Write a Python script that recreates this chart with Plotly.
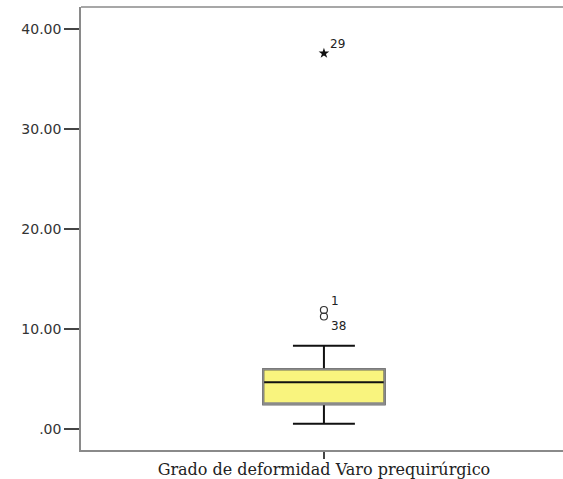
import plotly.graph_objects as go

category = ["Grado de deformidad Varo prequirúrgico"]
q1 = [2.44]
median = [4.64]
q3 = [5.94]
lower_fence = [0.5]
upper_fence = [8.3]

outlier_cases = ["1", "38"]
outlier_values = [11.87, 11.22]
extreme_cases = ["29"]
extreme_values = [37.54]

ytick_vals = [0, 10, 20, 30, 40]
ytick_text = [".00", "10.00", "20.00", "30.00", "40.00"]

fig = go.Figure()

fig.add_trace(go.Box(
    x=category, q1=q1, median=median, q3=q3,
    lowerfence=lower_fence, upperfence=upper_fence,
    fillcolor="#F9F47E", line=dict(color="#111111", width=2),
    width=0.252, whiskerwidth=0.51, boxpoints=False, showlegend=False,
    hoverinfo="skip",
))
fig.add_trace(go.Box(
    x=category, q1=q1, median=q1, q3=q3,
    lowerfence=q1, upperfence=q3,
    fillcolor="rgba(0,0,0,0)", line=dict(color="#8a8a8a", width=2),
    width=0.252, whiskerwidth=0, boxpoints=False, showlegend=False,
    hoverinfo="skip",
))

fig.add_trace(go.Scatter(
    x=category * len(outlier_values), y=outlier_values, mode="markers",
    marker=dict(symbol="circle-open", size=7, color="#333333", line=dict(width=1.2)),
    showlegend=False, hoverinfo="skip",
))
fig.add_trace(go.Scatter(
    x=category * len(extreme_values), y=extreme_values, mode="markers",
    marker=dict(symbol="star", size=8, color="#111111"),
    showlegend=False, hoverinfo="skip",
))

label_font = dict(family="DejaVu Sans", size=12, color="#222222")
shifts = {"1": (11, 9), "38": (15, -9), "29": (14, 9)}
for case, val in zip(outlier_cases + extreme_cases, outlier_values + extreme_values):
    dx, dy = shifts[case]
    fig.add_annotation(x=category[0], y=val, text=case, showarrow=False,
                       xshift=dx, yshift=dy, font=label_font)

# top frame line of the plot area
fig.add_shape(type="line", xref="paper", yref="paper", x0=0, x1=1, y0=1, y1=1,
              line=dict(color="#8a8a8a", width=1.5), layer="above")

fig.update_layout(
    width=563, height=479,
    margin=dict(l=81, r=0, t=7, b=29),
    paper_bgcolor="white", plot_bgcolor="white",
    boxmode="overlay",
    xaxis=dict(
        type="category", range=[-0.504, 0.496],
        showline=True, mirror=False, linecolor="#8a8a8a", linewidth=1.5,
        ticks="outside", ticklen=7, tickwidth=1.5, tickcolor="#444444",
        showgrid=False, zeroline=False, automargin=False,
        ticklabelstandoff=-3,
        tickfont=dict(family="DejaVu Serif", size=16, color="#222222"),
    ),
    yaxis=dict(
        range=[-2.13, 42.17],
        tickvals=ytick_vals, ticktext=ytick_text,
        showline=True, mirror=False, linecolor="#8a8a8a", linewidth=1.5,
        ticks="outside", ticklen=15, tickwidth=1.5, tickcolor="#444444",
        showgrid=False, zeroline=False, automargin=False,
        tickfont=dict(family="DejaVu Sans", size=14, color="#333333"),
    ),
)

fig.write_html("out.html")
